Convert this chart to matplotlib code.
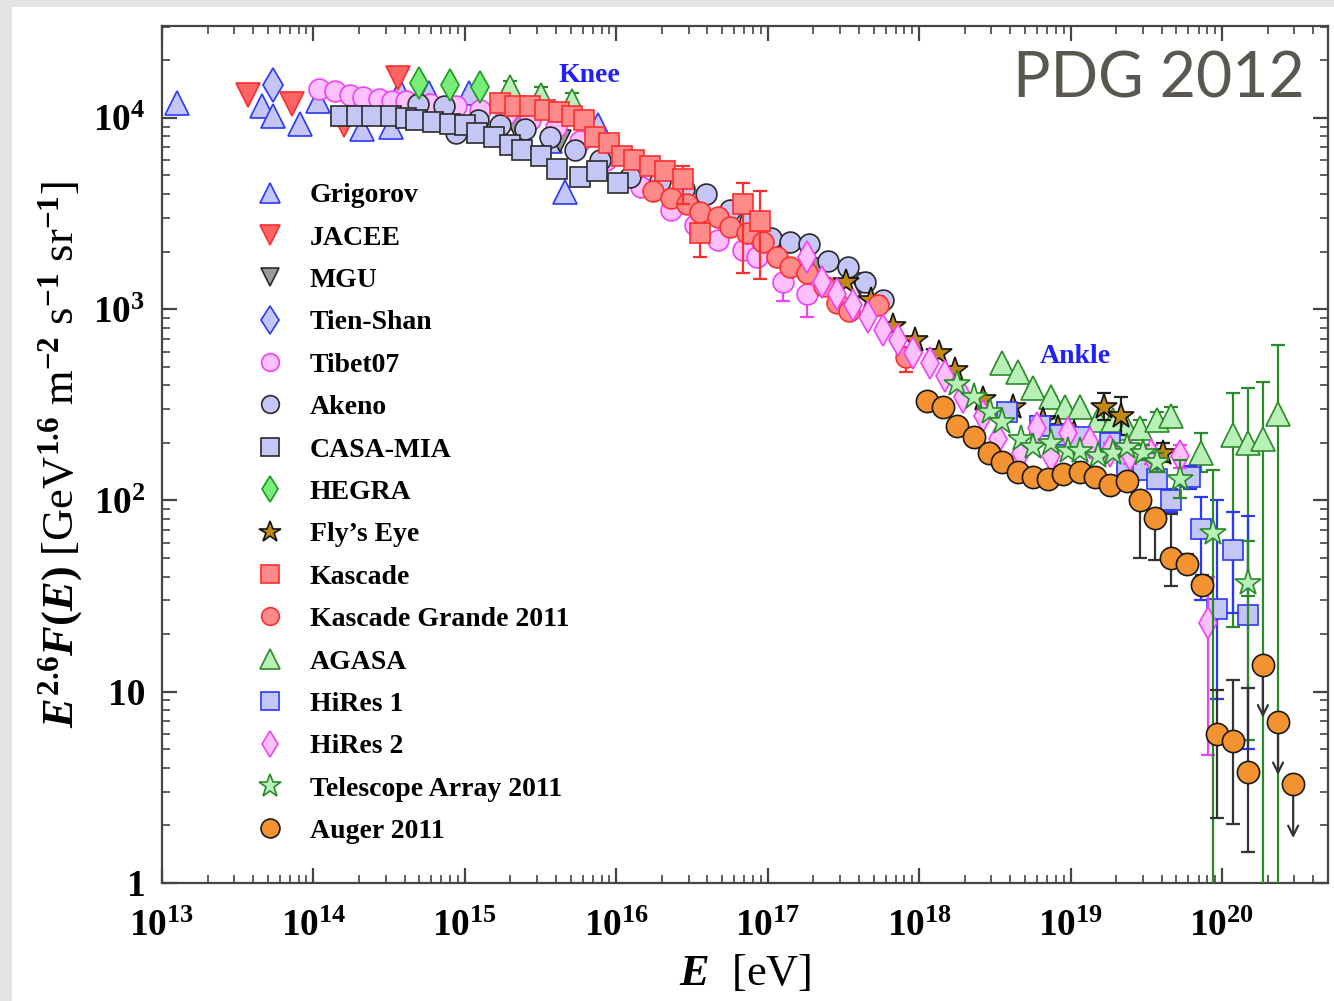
import numpy as np
import matplotlib
matplotlib.use("Agg")
import matplotlib.pyplot as plt
from matplotlib.lines import Line2D
from matplotlib.patches import Rectangle
from matplotlib.ticker import FixedLocator, FixedFormatter, NullFormatter

plt.rcParams['font.family'] = ['Liberation Serif', 'DejaVu Serif']
plt.rcParams['font.weight'] = 'bold'
plt.rcParams['mathtext.fontset'] = 'custom'
plt.rcParams['mathtext.rm'] = 'Liberation Serif:bold'
plt.rcParams['mathtext.it'] = 'Liberation Serif:italic:bold'
plt.rcParams['mathtext.bf'] = 'Liberation Serif:bold'

# ---------------- data (log10 E [eV], log10 E^2.6 F) ----------------
grigorov_logE = [13.10, 13.66, 13.73, 13.91, 14.03, 14.32, 14.51, 14.57, 14.76, 15.03, 15.56, 15.66, 15.88]
grigorov_logF = [4.08, 4.06, 4.01, 3.97, 4.09, 3.94, 3.95, 4.14, 4.13, 4.13, 3.88, 3.61, 3.96]

jacee_logE = [13.57, 13.86, 14.20, 14.56]
jacee_logF = [4.12, 4.07, 3.96, 4.21]

mgu_logE = [15.34, 15.63, 17.08, 17.35, 17.61]
mgu_logF = [3.95, 3.88, 3.27, 3.21, 3.13]

tienshan_logE = [13.73]
tienshan_logF = [4.17]

tibet_logE = [14.04, 14.14, 14.24, 14.33, 14.43, 14.52, 14.61, 14.77, 14.94, 15.10, 15.27, 15.43, 15.60,
              15.76, 15.93, 16.16, 16.36, 16.52, 16.67, 16.84, 16.93, 17.10, 17.26]
tibet_logF = [4.15, 4.14, 4.12, 4.11, 4.10, 4.09, 4.09, 4.07, 4.06, 4.04, 4.02, 3.99, 3.95,
              3.88, 3.78, 3.64, 3.52, 3.44, 3.36, 3.31, 3.27, 3.14, 3.08]
tibet_err_up = [0]*21 + [0.03, 0.03]
tibet_err_dn = [0]*21 + [0.10, 0.12]

akeno_logE = [14.69, 14.86, 14.94, 15.09, 15.23, 15.40, 15.56, 15.73, 15.89, 16.09, 16.29, 16.45, 16.59,
              16.75, 16.88, 17.02, 17.15, 17.27, 17.40, 17.53, 17.64, 17.76]
akeno_logF = [4.07, 4.06, 3.92, 3.99, 3.96, 3.94, 3.90, 3.83, 3.78, 3.69, 3.67, 3.63, 3.60,
              3.52, 3.46, 3.37, 3.35, 3.34, 3.25, 3.22, 3.14, 3.05]

casamia_logE = [14.18, 14.29, 14.39, 14.51, 14.61, 14.68, 14.79, 14.90, 15.00, 15.08, 15.19, 15.30,
                15.38, 15.50, 15.61, 15.76, 15.87, 16.01]
casamia_logF = [4.01, 4.01, 4.01, 4.01, 4.00, 3.99, 3.98, 3.97, 3.96, 3.92, 3.90, 3.86,
                3.83, 3.80, 3.73, 3.69, 3.72, 3.66]

hegra_logE = [14.70, 14.90, 15.10]
hegra_logF = [4.18, 4.17, 4.16]

flyseye_logE = [17.52, 17.68, 17.83, 17.97, 18.13, 18.24, 18.42, 18.62, 18.82, 18.92, 19.02, 19.22, 19.33, 19.61]
flyseye_logF = [3.14, 3.05, 2.91, 2.84, 2.77, 2.68, 2.53, 2.49, 2.42, 2.38, 2.35, 2.49, 2.44, 2.25]
flyseye_err_up = [0]*11 + [0.07, 0.10, 0.05]
flyseye_err_dn = [0]*11 + [0.07, 0.10, 0.05]

kascade_logE = [15.23, 15.33, 15.43, 15.53, 15.62, 15.71, 15.79, 15.86, 15.95, 16.04, 16.12, 16.22,
                16.32, 16.44, 16.55, 16.84, 16.95]
kascade_logF = [4.08, 4.06, 4.06, 4.04, 4.03, 4.01, 3.99, 3.90, 3.87, 3.80, 3.78, 3.75,
                3.72, 3.68, 3.40, 3.55, 3.46]
kascade_err_up = [0]*13 + [0.07, 0.05, 0.11, 0.16]
kascade_err_dn = [0]*13 + [0.13, 0.13, 0.36, 0.30]

kgrande_logE = [16.24, 16.36, 16.47, 16.55, 16.67, 16.75, 16.86, 16.97, 17.06, 17.15, 17.26, 17.37,
                17.46, 17.54, 17.73, 17.91]
kgrande_logF = [3.62, 3.58, 3.55, 3.51, 3.48, 3.43, 3.40, 3.35, 3.27, 3.22, 3.19, 3.12,
                3.03, 2.99, 3.02, 2.75]
kgrande_err_up = [0]*15 + [0.05]
kgrande_err_dn = [0]*15 + [0.08]

agasa_logE = [15.30, 15.50, 15.71, 18.55, 18.65, 18.75, 18.87, 18.96, 19.06, 19.18, 19.28, 19.37,
              19.46, 19.57, 19.66, 19.86, 20.07, 20.17, 20.27, 20.37]
agasa_logF = [4.16, 4.12, 4.09, 2.72, 2.67, 2.59, 2.54, 2.49, 2.49, 2.42, 2.42, 2.38,
              2.38, 2.42, 2.44, 2.25, 2.34, 2.30, 2.32, 2.45]
agasa_err_up = [0.03, 0.04, 0.04] + [0]*9 + [0.04, 0.04, 0.05, 0.10, 0.22, 0.29, 0.30, 0.36]
agasa_err_dn = [0.03, 0.04, 0.04] + [0]*9 + [0.04, 0.04, 0.05, 0.10, 1.00, 0.80, 3.00, 3.00]

hires1_logE = [18.58, 18.80, 18.93, 19.06, 19.26, 19.37, 19.48, 19.57, 19.66, 19.79, 19.86, 19.97, 20.07, 20.17]
hires1_logF = [2.46, 2.39, 2.34, 2.33, 2.30, 2.18, 2.16, 2.11, 2.00, 2.12, 1.85, 1.43, 1.74, 1.40]
hires1_err_up = [0, 0, 0, 0, 0.05, 0.05, 0.05, 0.05, 0.06, 0.06, 0.17, 0.57, 0.20, 0.52]
hires1_err_dn = [0, 0, 0, 0, 0.05, 0.05, 0.05, 0.05, 0.06, 0.06, 0.37, 0.47, 0.33, 0.70]

hires2_logE = [17.26, 17.36, 17.46, 17.56, 17.66, 17.76, 17.86, 17.96, 18.07, 18.17, 18.29, 18.42,
               18.52, 18.67, 18.78, 18.87, 18.98, 19.13, 19.26, 19.39, 19.53, 19.72, 19.91]
hires2_logF = [3.27, 3.14, 3.08, 3.02, 2.96, 2.89, 2.84, 2.77, 2.72, 2.65, 2.54, 2.44,
               2.32, 2.25, 2.38, 2.23, 2.35, 2.30, 2.26, 2.24, 2.24, 2.23, 1.36]
hires2_err_up = [0]*18 + [0.04, 0.05, 0.05, 0.06, 0.24]
hires2_err_dn = [0]*18 + [0.04, 0.05, 0.05, 0.06, 0.69]

ta_logE = [18.25, 18.36, 18.47, 18.55, 18.67, 18.75, 18.87, 18.98, 19.06, 19.18, 19.28, 19.37,
           19.48, 19.57, 19.72, 19.94, 20.17]
ta_logF = [2.61, 2.54, 2.46, 2.41, 2.32, 2.28, 2.30, 2.26, 2.26, 2.23, 2.25, 2.28,
           2.25, 2.20, 2.11, 1.83, 1.57]
ta_err_up = [0]*12 + [0.04, 0.05, 0.10, 0.33, 0.22]
ta_err_dn = [0]*12 + [0.04, 0.05, 0.10, 3.00, 0.82]

auger_logE = [18.05, 18.16, 18.25, 18.36, 18.46, 18.55, 18.65, 18.75, 18.85, 18.95, 19.06, 19.16,
              19.26, 19.37, 19.46, 19.56, 19.66, 19.77, 19.87, 19.97, 20.07, 20.17]
auger_logF = [2.52, 2.49, 2.39, 2.33, 2.25, 2.20, 2.15, 2.12, 2.11, 2.14, 2.15, 2.12,
              2.08, 2.10, 2.00, 1.91, 1.70, 1.67, 1.56, 0.78, 0.74, 0.58]
auger_err_up = [0]*14 + [0.03, 0.03, 0.23, 0.05, 0.05, 0.23, 0.32, 0.44]
auger_err_dn = [0]*14 + [0.30, 0.22, 0.15, 0.05, 0.05, 0.44, 0.43, 0.42]
auger_ul_logE = [20.27, 20.37, 20.47]
auger_ul_logF = [1.14, 0.84, 0.52]
auger_ul_arrow_logF = [0.85, 0.55, 0.22]

annot_knee = ("Knee", 15.82, 4.22)
annot_ankle = ("Ankle", 19.03, 2.75)

x_tick_exponents = [13, 14, 15, 16, 17, 18, 19, 20]
y_tick_values = [1, 10, 100, 1000, 10000]
y_tick_labels = ['1', '10', r'$10^{2}$', r'$10^{3}$', r'$10^{4}$']

# ---------------- figure ----------------
W, H = 1334, 1001
fig = plt.figure(figsize=(W/100, H/100), dpi=100, facecolor='#e4e4e4')
fig.patches.append(Rectangle((12/W, 0), 1 - 12/W, 1 - 7/H, transform=fig.transFigure,
                             facecolor='white', edgecolor='none', zorder=-10))
ax = fig.add_axes([162/W, 1 - 883/H, (1328 - 162)/W, (883 - 26)/H])
ax.set_xscale('log')
ax.set_yscale('log')
ax.set_xlim(1e13, 10**20.70)
ax.set_ylim(1, 10**4.48)

def draw(logE, logF, marker, ms, fc, ec, up=None, dn=None, ecol=None, mew=1.2, z=3):
    E = 10**np.asarray(logE)
    F = 10**np.asarray(logF)
    if up is not None:
        lo = F - 10**(np.asarray(logF) - np.asarray(dn))
        hi = 10**(np.asarray(logF) + np.asarray(up)) - F
        ax.errorbar(E, F, yerr=[lo, hi], fmt='none', ecolor=ecol or ec, elinewidth=1.6,
                    capsize=5, capthick=1.6, zorder=z - 0.5)
    ax.plot(E, F, linestyle='none', marker=marker, ms=ms, mfc=fc, mec=ec, mew=mew, zorder=z)

BLUE = '#2a38ff'
LBLUE = '#c4c6f6'
RED = '#ff2e2e'
LRED = '#ff8a8a'
MAG = '#f040f8'
LMAG = '#ffc0ff'
GRN = '#2a8a2a'
LGRN = '#b8f0b8'
DK = '#2a2a2a'

styles = {
    'Grigorov': dict(marker='^', ms=17, fc=LBLUE, ec=BLUE),
    'JACEE': dict(marker='v', ms=17, fc='#ff6464', ec=RED),
    'MGU': dict(marker='v', ms=16, fc='#9a9a9a', ec=DK),
    'Tien-Shan': dict(marker='d', ms=17, fc=LBLUE, ec=BLUE),
    'Tibet07': dict(marker='o', ms=15, fc=LMAG, ec=MAG),
    'Akeno': dict(marker='o', ms=15, fc=LBLUE, ec=DK),
    'CASA-MIA': dict(marker='s', ms=15, fc=LBLUE, ec=DK),
    'HEGRA': dict(marker='d', ms=16, fc='#7aec7a', ec='#1f9a1f'),
    "Fly\u2019s Eye": dict(marker='*', ms=19, fc='#c08a10', ec='#111111'),
    'Kascade': dict(marker='s', ms=15, fc=LRED, ec=RED),
    'Kascade Grande 2011': dict(marker='o', ms=15, fc=LRED, ec=RED),
    'AGASA': dict(marker='^', ms=17, fc=LGRN, ec=GRN),
    'HiRes 1': dict(marker='s', ms=15, fc=LBLUE, ec=BLUE),
    'HiRes 2': dict(marker='d', ms=16, fc=LMAG, ec=MAG),
    'Telescope Array 2011': dict(marker='*', ms=20, fc=LGRN, ec=GRN),
    'Auger 2011': dict(marker='o', ms=16, fc='#f39230', ec='#1a1a1a'),
}

def st(name):
    s = styles[name]
    return s['marker'], s['ms'], s['fc'], s['ec']

draw(grigorov_logE, grigorov_logF, *st('Grigorov'), z=3)
draw(jacee_logE, jacee_logF, *st('JACEE'), z=3)
draw(mgu_logE, mgu_logF, *st('MGU'), z=3)
draw(tienshan_logE, tienshan_logF, *st('Tien-Shan'), z=3)
draw(tibet_logE, tibet_logF, *st('Tibet07'), up=tibet_err_up, dn=tibet_err_dn, z=3)
draw(akeno_logE, akeno_logF, *st('Akeno'), z=4)
draw(casamia_logE, casamia_logF, *st('CASA-MIA'), z=5)
draw(hegra_logE, hegra_logF, *st('HEGRA'), z=5)
draw(agasa_logE, agasa_logF, *st('AGASA'), up=agasa_err_up, dn=agasa_err_dn, z=5)
draw(flyseye_logE, flyseye_logF, *st("Fly\u2019s Eye"), up=flyseye_err_up, dn=flyseye_err_dn,
     ecol='#222222', z=6)
draw(kgrande_logE, kgrande_logF, *st('Kascade Grande 2011'), up=kgrande_err_up, dn=kgrande_err_dn, z=6)
draw(kascade_logE, kascade_logF, *st('Kascade'), up=kascade_err_up, dn=kascade_err_dn, z=6.5)
draw(hires1_logE, hires1_logF, *st('HiRes 1'), up=hires1_err_up, dn=hires1_err_dn, z=7)
draw(hires2_logE, hires2_logF, *st('HiRes 2'), up=hires2_err_up, dn=hires2_err_dn, z=7.5)
draw(ta_logE, ta_logF, *st('Telescope Array 2011'), up=ta_err_up, dn=ta_err_dn, z=8)
draw(auger_logE, auger_logF, *st('Auger 2011'), up=auger_err_up, dn=auger_err_dn, ecol='#333333', z=9)
# Auger upper limits
for le, lf, la in zip(auger_ul_logE, auger_ul_logF, auger_ul_arrow_logF):
    ax.annotate('', xy=(10**le, 10**la), xytext=(10**le, 10**lf),
                arrowprops=dict(arrowstyle='->', color='#333333', lw=1.6, mutation_scale=18),
                zorder=8.8)
m, ms, fc, ec = st('Auger 2011')
ax.plot(10**np.asarray(auger_ul_logE), 10**np.asarray(auger_ul_logF), linestyle='none',
        marker=m, ms=ms, mfc=fc, mec=ec, mew=1.2, zorder=9)

# annotations
for txt, le, lf in (annot_knee, annot_ankle):
    ax.text(10**le, 10**lf, txt, color='#1f1fff', fontsize=20, fontweight='bold',
            ha='center', va='center', zorder=10)

# legend
handles = []
for name, s in styles.items():
    handles.append(Line2D([], [], linestyle='none', marker=s['marker'], ms=s['ms'] * 0.85,
                          mfc=s['fc'], mec=s['ec'], mew=1.2, label=name))
leg = ax.legend(handles=handles, loc='upper left', bbox_to_anchor=(0.066, 0.83),
                frameon=False, labelspacing=0.61, handletextpad=0.75,
                handlelength=1.4, borderaxespad=0, prop={'weight': 'bold', 'size': 20})

# axes styling
for sp in ax.spines.values():
    sp.set_color('#444444')
    sp.set_linewidth(1.6)
ax.xaxis.set_major_locator(FixedLocator([10.0**e for e in x_tick_exponents]))
ax.xaxis.set_major_formatter(FixedFormatter([r'$10^{%d}$' % e for e in x_tick_exponents]))
minor_x = [k * 10.0**e for e in range(13, 21) for k in range(2, 10) if k * 10.0**e < 10**20.7]
ax.xaxis.set_minor_locator(FixedLocator(minor_x))
ax.yaxis.set_major_locator(FixedLocator(y_tick_values))
ax.yaxis.set_major_formatter(FixedFormatter(y_tick_labels))
minor_y = [k * 10.0**e for e in range(0, 5) for k in range(2, 10) if k * 10.0**e < 10**4.48]
ax.yaxis.set_minor_locator(FixedLocator(minor_y))
ax.xaxis.set_minor_formatter(NullFormatter())
ax.yaxis.set_minor_formatter(NullFormatter())
ax.tick_params(which='both', direction='in', top=True, right=True, color='#444444')
ax.tick_params(which='major', length=11, width=1.6, labelsize=27)
ax.tick_params(axis='x', which='major', pad=19)
ax.tick_params(axis='y', which='major', pad=12)
ax.tick_params(which='minor', length=5.5, width=1.2)

ax.set_xlabel(r'$E$  [eV]', fontsize=32, labelpad=6)
ax.set_ylabel(r'$E^{2.6}F(E)$ [GeV$^{1.6}$ m$^{-2}$ s$^{-1}$ sr$^{-1}$]', fontsize=32, labelpad=6)

fig.text(1305/W, 1 - 79/H, 'PDG 2012', fontsize=45, color='#5a5650', family='Lato',
         fontweight='normal', ha='right', va='center', zorder=20)

fig.savefig('out.png', dpi=100, facecolor=fig.get_facecolor())
